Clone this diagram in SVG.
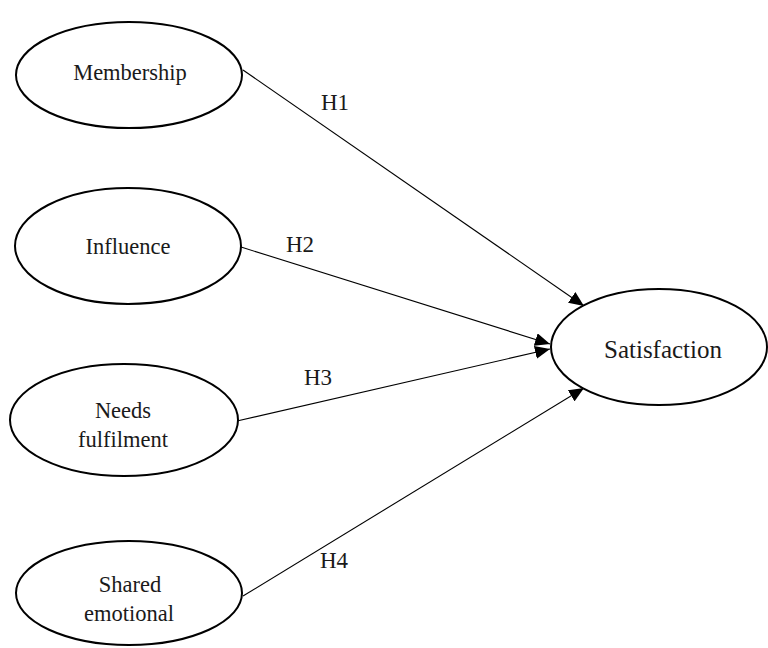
<svg xmlns="http://www.w3.org/2000/svg" width="768" height="648" viewBox="0 0 768 648">
<defs>
<style>
.n{fill:#fff;stroke:#000;stroke-width:2}
.t{font-family:"Liberation Serif",serif;font-size:22.5px;fill:#1a1a1a;text-anchor:middle}
.h{font-family:"Liberation Serif",serif;font-size:23px;fill:#1a1a1a}
.c{stroke:#000;stroke-width:1.1;fill:none;marker-end:url(#ah)}
</style>
<marker id="ah" markerUnits="userSpaceOnUse" markerWidth="16" markerHeight="13" refX="15" refY="6.5" orient="auto">
<path d="M0,0 L15,6.5 L0,13 z" fill="#000"/>
</marker>
</defs>
<g id="connectors">
<line class="c" x1="243" y1="70" x2="584" y2="306"/>
<line class="c" x1="241" y1="247" x2="550" y2="344"/>
<line class="c" x1="237" y1="421" x2="550" y2="349"/>
<line class="c" x1="243" y1="596" x2="584" y2="388"/>
</g>
<g id="labels">
<text class="h" x="321" y="110">H1</text>
<text class="h" x="286" y="252">H2</text>
<text class="h" x="304" y="385">H3</text>
<text class="h" x="320" y="568">H4</text>
</g>
<g id="membership">
<ellipse class="n" cx="129" cy="75" rx="113" ry="53"/>
<text class="t" x="130" y="80">Membership</text>
</g>
<g id="influence">
<ellipse class="n" cx="128" cy="246" rx="113" ry="58"/>
<text class="t" x="128" y="254">Influence</text>
</g>
<g id="needs">
<ellipse class="n" cx="124" cy="420" rx="114" ry="56"/>
<text class="t" x="123" y="418">Needs</text>
<text class="t" x="123" y="447">fulfilment</text>
</g>
<g id="shared">
<ellipse class="n" cx="129" cy="593" rx="113" ry="52"/>
<text class="t" x="130" y="592">Shared</text>
<text class="t" x="129" y="621">emotional</text>
</g>
<g id="satisfaction">
<ellipse class="n" cx="659" cy="347" rx="108" ry="58"/>
<text class="t" x="663" y="358" style="font-size:25px">Satisfaction</text>
</g>
</svg>
